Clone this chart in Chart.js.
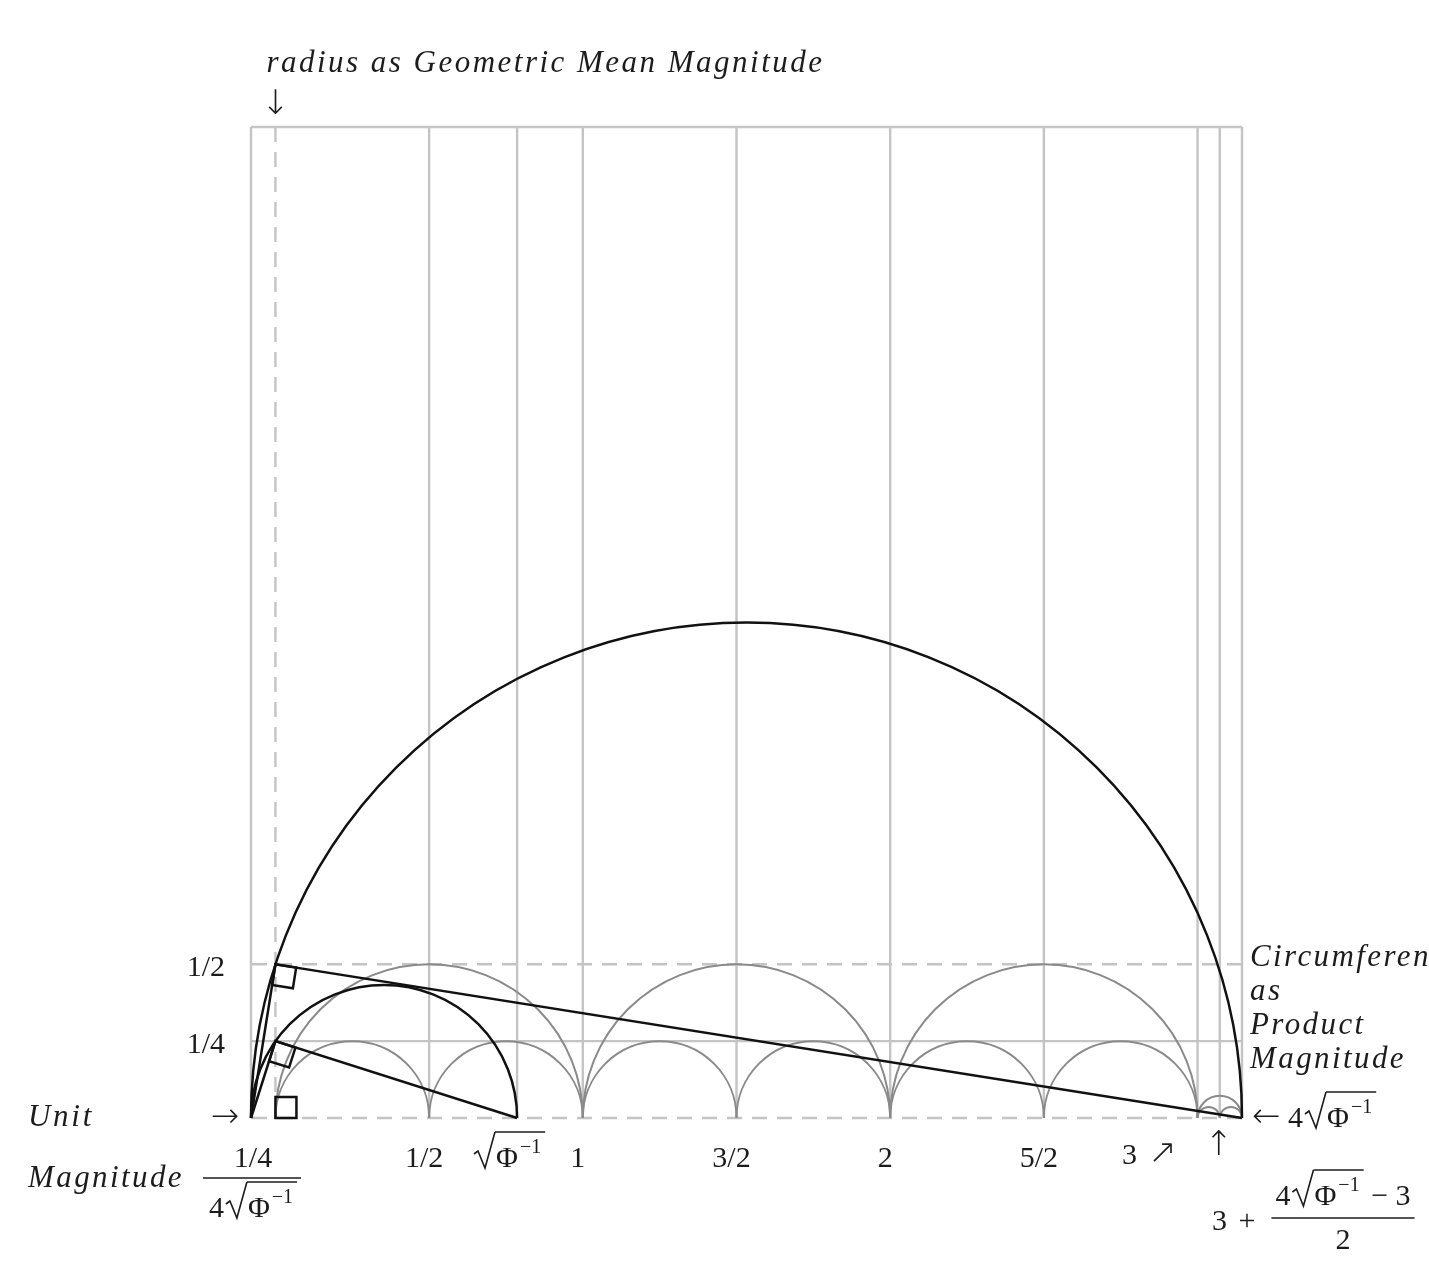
<!DOCTYPE html>
<html>
<head>
<meta charset="utf-8">
<title>Semicircles</title>
<script src="https://cdn.jsdelivr.net/npm/chart.js@4.4.1/dist/chart.umd.min.js"></script>
<style>
  html, body { margin: 0; padding: 0; background: #fff; }
  #box { width: 1429px; height: 1281px; position: relative; }
</style>
</head>
<body>
<div id="box"><canvas id="figura"></canvas></div>
<script>
// abscissas named on the figure
const xStart = -0.0795;   // (1/4) / (4√Φ⁻¹)
const xSqrt = 0.7862;     // √Φ⁻¹
const xMid = 3.0723;      // 3 + (4√Φ⁻¹ − 3)/2
const xEnd = 3.1446;      // 4√Φ⁻¹
const yTop = 3.2241;      // frame is a square

// grid lines
const solidX = [xStart, 0.5, xSqrt, 1, 1.5, 2, 2.5, 3, xMid, xEnd];
const dashedX = [0];
const solidY = [0.25, yTop];
const dashedY = [0, 0.5];

// semicircles given by their two feet on the axis
const greyArcs = [[0, 0.5], [0.5, 1], [1, 1.5], [1.5, 2], [2, 2.5], [2.5, 3],
                  [0, 1], [1, 2], [2, 3], [3, xMid], [xMid, xEnd], [3, xEnd]];
const blackArcs = [[xStart, xEnd], [xStart, xSqrt]];

// inscribed right triangles
const bigTriangle = [[xStart, 0], [0, 0.5], [xEnd, 0]];
const smallTriangle = [[xStart, 0], [0, 0.25], [xSqrt, 0]];

// tick labels
const tickValues = [0.5, 1, 1.5, 2, 2.5];
const tickLabels = ['1/2', '1', '3/2', '2', '5/2'];
const yTickValues = [0.5, 0.25];
const yTickLabels = ['1/2', '1/4'];

const serif = '"Liberation Serif", "DejaVu Serif", serif';
const textColor = '#1c1c1c';
const NUM = 30;   // upright digits
const ITA = 31;   // italic words
let italicGap = 3; // set once from the width of "Magnitude"

function setFont(ctx, size, italic) {
  ctx.font = (italic ? 'italic ' : '') + size + 'px ' + serif;
}

function word(ctx, str, x, y, opts) {
  opts = opts || {};
  const it = !!opts.italic;
  setFont(ctx, opts.size || (it ? ITA : NUM), it);
  ctx.textAlign = opts.align || 'left';
  ctx.textBaseline = opts.base || 'alphabetic';
  ctx.letterSpacing = '0px';
  let sp = opts.spacing !== undefined ? opts.spacing : (it ? italicGap : 0);
  if (opts.width) {
    sp = (opts.width - ctx.measureText(str).width) / str.length;
  }
  ctx.letterSpacing = sp + 'px';
  ctx.fillText(str, x, y);
  ctx.letterSpacing = '0px';
}

function arrow(ctx, str, x, y) {
  ctx.font = '200 34px "DejaVu Sans", sans-serif';
  ctx.letterSpacing = '0px';
  ctx.textAlign = 'center';
  ctx.textBaseline = 'middle';
  ctx.fillText(str, x, y);
}

// a row of pieces: text, a drawn radical, superscripts; returns its width
function mathRuns(ctx, runs, x, y, align) {
  ctx.letterSpacing = '0px';
  const parts = runs.map(function (r) {
    let w = r.rad ? 23 : 0;
    if (!r.rad) {
      setFont(ctx, r.size || NUM, false);
      w = ctx.measureText(r.t).width;
    }
    return Object.assign({}, r, { w: w + (r.pad || 0) });
  });
  const total = parts.reduce(function (s, p) { return s + p.w; }, 0);
  let cx = align === 'center' ? x - total / 2 : (align === 'right' ? x - total : x);
  ctx.textAlign = 'left';
  ctx.textBaseline = 'alphabetic';
  let from = null, to = null;
  const top = y - 35;
  ctx.strokeStyle = textColor;
  parts.forEach(function (p) {
    if (p.rad) {
      ctx.beginPath();
      ctx.lineWidth = 1.6;
      ctx.moveTo(cx + 1, y - 13);
      ctx.lineTo(cx + 5, y - 16);
      ctx.lineTo(cx + 12, y + 1);
      ctx.lineTo(cx + 22, top);
      ctx.stroke();
      from = cx + 22;
    } else {
      setFont(ctx, p.size || NUM, false);
      ctx.fillText(p.t, cx, y + (p.dy || 0));
      if (p.over) to = cx + p.w;
    }
    cx += p.w;
  });
  if (from !== null && to !== null) {
    ctx.beginPath();
    ctx.lineWidth = 1.4;
    ctx.moveTo(from, top);
    ctx.lineTo(to, top);
    ctx.stroke();
  }
  return total;
}

function sqrtPhi(prefix) {
  const r = [];
  if (prefix) r.push({ t: prefix, pad: 1 });
  r.push({ rad: true });
  r.push({ t: 'Φ', over: true, pad: 2 });
  r.push({ t: '−1', size: 20, dy: -14, over: true, pad: 4 });
  return r;
}

function fractionBar(ctx, x1, x2, y) {
  ctx.beginPath();
  ctx.lineWidth = 1.4;
  ctx.strokeStyle = textColor;
  ctx.moveTo(x1, y);
  ctx.lineTo(x2, y);
  ctx.stroke();
}

function segment(ctx, x1, y1, x2, y2) {
  ctx.beginPath();
  ctx.moveTo(x1, y1);
  ctx.lineTo(x2, y2);
  ctx.stroke();
}

function semicircle(ctx, x, y, a, b) {
  const pa = x.getPixelForValue(a), pb = x.getPixelForValue(b);
  const cy = y.getPixelForValue(0);
  ctx.beginPath();
  ctx.arc((pa + pb) / 2, cy, Math.abs(pb - pa) / 2, Math.PI, 2 * Math.PI);
  ctx.stroke();
}

// little square marking a right angle at the apex, sides along the legs
function rightAngle(ctx, x, y, tri, s) {
  const P = [x.getPixelForValue(tri[1][0]), y.getPixelForValue(tri[1][1])];
  const A = [x.getPixelForValue(tri[0][0]), y.getPixelForValue(tri[0][1])];
  const B = [x.getPixelForValue(tri[2][0]), y.getPixelForValue(tri[2][1])];
  const unit = function (Q) {
    const dx = Q[0] - P[0], dy = Q[1] - P[1], l = Math.hypot(dx, dy);
    return [dx / l, dy / l];
  };
  const u = unit(B), v = unit(A);
  ctx.beginPath();
  ctx.moveTo(P[0], P[1]);
  ctx.lineTo(P[0] + s * u[0], P[1] + s * u[1]);
  ctx.lineTo(P[0] + s * u[0] + s * v[0], P[1] + s * u[1] + s * v[1]);
  ctx.lineTo(P[0] + s * v[0], P[1] + s * v[1]);
  ctx.closePath();
  ctx.stroke();
}

const figurePlugin = {
  id: 'figure',
  beforeDatasetsDraw(chart) {
    const { ctx, scales: { x, y } } = chart;
    const px = function (v) { return x.getPixelForValue(v); };
    const py = function (v) { return y.getPixelForValue(v); };
    ctx.save();
    ctx.strokeStyle = '#c4c4c4';
    ctx.lineWidth = 2.4;
    ctx.setLineDash([]);
    solidX.forEach(function (v) { segment(ctx, px(v), py(0), px(v), py(yTop)); });
    solidY.forEach(function (v) { segment(ctx, px(xStart), py(v), px(xEnd), py(v)); });
    ctx.setLineDash([15, 10]);
    dashedX.forEach(function (v) { segment(ctx, px(v), py(yTop), px(v), py(0)); });
    dashedY.forEach(function (v) { segment(ctx, px(xEnd), py(v), px(xStart), py(v)); });
    ctx.setLineDash([]);

    ctx.strokeStyle = '#8a8a8a';
    ctx.lineWidth = 2;
    greyArcs.forEach(function (ab) { semicircle(ctx, x, y, ab[0], ab[1]); });
    ctx.restore();
  },
  afterDatasetsDraw(chart) {
    const { ctx, scales: { x, y } } = chart;
    const px = function (v) { return x.getPixelForValue(v); };
    const py = function (v) { return y.getPixelForValue(v); };
    ctx.save();
    ctx.strokeStyle = '#111';
    ctx.lineWidth = 2.5;
    blackArcs.forEach(function (ab) { semicircle(ctx, x, y, ab[0], ab[1]); });
    rightAngle(ctx, x, y, bigTriangle, 21);
    rightAngle(ctx, x, y, smallTriangle, 21);
    rightAngle(ctx, x, y, [[0, 1], [0, 0], [1, 0]], 21);

    ctx.fillStyle = textColor;
    setFont(ctx, ITA, true);
    ctx.letterSpacing = '0px';
    italicGap = (156 - ctx.measureText('Magnitude').width) / 9;
    const x0 = py(0);

    // top caption
    word(ctx, 'radius as Geometric Mean Magnitude', px(0) - 9, 72, { italic: true, width: 558 });
    arrow(ctx, '↓', px(0), 105);

    // y labels
    yTickValues.forEach(function (v, i) {
      word(ctx, yTickLabels[i], px(xStart) - 26, py(v) + 12, { align: 'right' });
    });

    // x labels
    tickValues.forEach(function (v, i) {
      word(ctx, tickLabels[i], px(v) - 5, x0 + 49, { align: 'center' });
    });
    mathRuns(ctx, sqrtPhi(''), px(xSqrt) - 8, x0 + 49, 'center');
    word(ctx, '3', px(3) - 68, x0 + 46, { align: 'center' });
    arrow(ctx, '↗', px(3) - 35, x0 + 36);
    arrow(ctx, '↑', px(xMid) - 1, x0 + 28);

    // left: Unit Magnitude
    word(ctx, 'Unit', 28, x0 + 8, { italic: true, width: 66 });
    arrow(ctx, '→', px(xStart) - 26, x0);
    word(ctx, 'Magnitude', 28, x0 + 69, { italic: true });
    word(ctx, '1/4', px(xStart) + 2, x0 + 49, { align: 'center' });
    fractionBar(ctx, px(xStart) - 48, px(xStart) + 50, x0 + 60);
    mathRuns(ctx, sqrtPhi('4'), px(xStart) + 2, x0 + 99, 'center');

    // right: end point
    arrow(ctx, '←', px(xEnd) + 24, x0);
    mathRuns(ctx, sqrtPhi('4'), px(xEnd) + 46, x0 + 9, 'left');

    // right caption, cut by the page edge
    const rx = px(xEnd) + 8;
    word(ctx, 'Circumference', rx, py(0.5) + 2, { italic: true });
    word(ctx, 'as', rx, py(0.5) + 36, { italic: true });
    word(ctx, 'Product', rx, py(0.5) + 70, { italic: true });
    word(ctx, 'Magnitude', rx, py(0.5) + 104, { italic: true });

    // midpoint of the last gap
    word(ctx, '3 +', 1212, x0 + 112, { spacing: 2 });
    const numW = mathRuns(ctx, sqrtPhi('4').concat([{ t: ' − 3' }]), 1343, x0 + 87, 'center');
    fractionBar(ctx, 1343 - numW / 2 - 4, 1343 + numW / 2 + 4, x0 + 100);
    word(ctx, '2', 1343, x0 + 131, { align: 'center' });
    ctx.restore();
  }
};

function toPoints(list) {
  return list.map(function (p) { return { x: p[0], y: p[1] }; });
}

const ctx = document.getElementById('figura').getContext('2d');
new Chart(ctx, {
  type: 'scatter',
  data: {
    datasets: [{
      label: 'big triangle',
      data: toPoints(bigTriangle),
      showLine: true,
      borderColor: '#111',
      borderWidth: 2.5,
      pointRadius: 0,
      tension: 0,
      clip: false
    }, {
      label: 'small triangle',
      data: toPoints(smallTriangle),
      showLine: true,
      borderColor: '#111',
      borderWidth: 2.5,
      pointRadius: 0,
      tension: 0,
      clip: false
    }]
  },
  options: {
    responsive: true,
    maintainAspectRatio: false,
    animation: false,
    layout: { padding: { left: 251, right: 187, top: 127, bottom: 163 } },
    scales: {
      x: { type: 'linear', min: xStart, max: xEnd, display: false },
      y: { type: 'linear', min: 0, max: yTop, display: false }
    },
    plugins: {
      legend: { display: false },
      tooltip: { enabled: false }
    }
  },
  plugins: [figurePlugin]
});
</script>
</body>
</html>
